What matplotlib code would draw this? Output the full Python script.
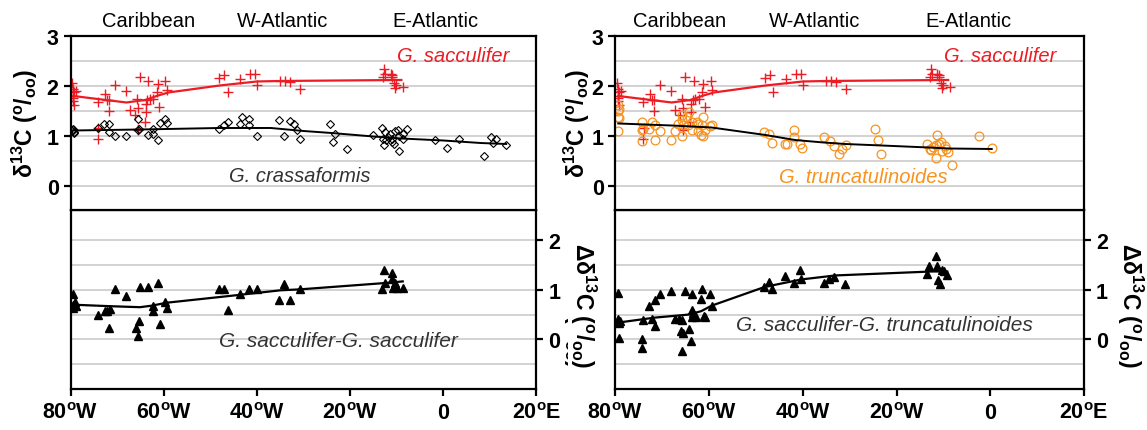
import matplotlib
matplotlib.use("Agg")
import matplotlib.pyplot as plt
import numpy as np

plt.rcParams['font.family'] = ['Liberation Sans', 'DejaVu Sans']
plt.rcParams['mathtext.fontset'] = 'custom'
plt.rcParams['mathtext.rm'] = 'Liberation Sans'
plt.rcParams['mathtext.bf'] = 'Liberation Sans:bold'
plt.rcParams['mathtext.it'] = 'Liberation Sans:italic'
plt.rcParams['mathtext.default'] = 'bf'

# G. sacculifer d13C (red crosses, same in both panels)
sac_lon = [-79.6, -79.4, -79.2, -78.9, -79.5, -79.4, -79.5, -79.3,
           -74.2, -72.7, -72.2, -71.7, -71.7, -70.5, -68.2, -74.2, -74.0,
           -67.2, -66.2, -65.8, -65.5, -65.1, -65.6, -65.5, -64.0, -63.8, -63.5,
           -63.3, -63.8, -63.0, -62.2, -61.5, -61.3, -61.0, -59.7, -59.4,
           -48.1, -47.0, -46.3, -43.6, -41.5, -40.4, -39.9,
           -35.0, -34.0, -33.0, -30.8,
           -12.7, -12.9, -12.5, -11.3, -10.9, -10.6, -10.2, -10.4, -8.6, -10.9]
sac_val = [2.06, 1.94, 1.87, 1.90, 1.80, 1.75, 1.69, 1.61,
           1.67, 1.83, 1.71, 1.71, 1.49, 2.02, 1.89, 0.94, 1.15,
           1.51, 1.42, 1.73, 1.55, 2.17, 1.14, 1.11, 1.27, 1.64, 1.71,
           2.09, 1.47, 1.73, 1.73, 1.87, 2.04, 1.57, 2.09, 1.91,
           2.15, 2.21, 1.87, 2.13, 2.24, 2.24, 2.01,
           2.09, 2.09, 2.07, 1.94,
           2.33, 2.17, 2.24, 2.24, 2.17, 2.06, 2.01, 1.95, 1.97, 2.22]
sac_fit_lon = [-79.4, -74.2, -68, -64, -61.2, -59, -48, -40, -35, -9]
sac_fit_val = [1.80, 1.74, 1.67, 1.72, 1.81, 1.87, 2.01, 2.09, 2.10, 2.12]

# G. crassaformis d13C
cra_lon = [-79.6, -79.4, -79.2, -79.5, -79.3,
           -74.0, -72.8, -71.7, -71.7, -70.5, -68.2, -65.6, -65.6, -65.2, -63.3,
           -62.3, -62.3, -61.3, -60.9, -59.7, -59.4,
           -48.1, -47.1, -46.3, -43.6, -43.3, -41.6, -41.6, -40.0,
           -35.2, -33.0, -32.0, -31.3, -34.2, -30.8,
           -24.3, -23.2, -23.6, -20.6,
           -15.0, -13.2, -12.5, -12.9, -12.7, -11.8, -11.4, -10.9, -10.6, -10.4,
           -9.7, -9.4, -8.7, -8.6, -7.7, -9.4, -12.2, -11.1,
           -1.8, 0.9, 3.4, 8.7, 10.3, 11.4, 10.6, 13.5]
cra_val = [1.10, 1.12, 1.08, 1.14, 1.05,
           1.15, 1.24, 1.24, 1.07, 0.99, 0.99, 1.33, 1.11, 1.13, 1.02,
           1.04, 1.14, 0.91, 1.25, 1.33, 1.26,
           1.14, 1.21, 1.27, 1.23, 1.37, 1.34, 1.22, 0.99,
           1.31, 1.29, 1.24, 1.11, 0.99, 0.94,
           1.23, 1.04, 0.87, 0.74,
           1.01, 1.15, 1.07, 0.94, 0.82, 0.97, 1.04, 0.87, 0.84, 1.09,
           1.11, 0.99, 0.94, 1.04, 1.13, 0.69, 0.91, 0.94,
           0.91, 0.76, 0.94, 0.59, 0.97, 0.94, 0.85, 0.82]
cra_fit_lon = [-79.5, -65, -48, -37, -30, -24, -15, -9, 0, 8, 13.5]
cra_fit_val = [1.11, 1.13, 1.16, 1.16, 1.10, 1.06, 0.99, 0.95, 0.91, 0.86, 0.84]

# G. truncatulinoides d13C
tru_lon = [-79.4, -79.3, -79.4, -79.4, -79.2, -79.5,
           -74.3, -74.1, -74.4, -74.4, -72.3, -72.8, -71.6, -71.6, -70.5, -68.2,
           -67.2, -65.9, -65.7, -65.5, -65.7, -64.8, -64.6, -63.7, -63.6, -62.6,
           -62.3, -62.3, -61.3, -61.5, -61.8, -61.3, -60.9, -59.8, -59.3, -64.4, -66.6,
           -48.2, -47.2, -46.5, -43.8, -43.4, -41.8, -41.8, -40.6, -40.2,
           -35.5, -34.2, -33.3, -32.3, -31.6, -30.9, -24.6, -23.9, -23.4,
           -13.6, -12.9, -12.7, -12.2, -11.3, -11.5, -11.0, -10.5, -10.4, -11.5,
           -9.7, -9.5, -9.0, -8.1, -2.4, 0.4]
tru_val = [1.61, 1.54, 1.49, 1.37, 1.35, 1.09,
           1.27, 1.14, 1.11, 0.89, 1.27, 1.13, 1.21, 0.92, 1.09, 0.91,
           1.09, 1.32, 1.42, 1.22, 0.99, 1.37, 1.21, 1.27, 1.11, 1.27,
           1.24, 1.09, 1.37, 1.21, 1.01, 0.99, 1.11, 1.19, 1.21, 1.47, 1.24,
           1.07, 1.04, 0.86, 0.84, 0.84, 1.11, 0.97, 0.84, 0.75,
           0.97, 0.89, 0.79, 0.63, 0.74, 0.82, 1.14, 0.91, 0.63,
           0.84, 0.74, 0.71, 0.77, 1.01, 0.82, 0.84, 0.87, 0.69, 0.55,
           0.79, 0.74, 0.67, 0.42, 0.99, 0.75]
tru_fit_lon = [-79.4, -68, -59.5, -48, -41.7, -35.6, -31, -23.2, -13.2, -9, 0.3]
tru_fit_val = [1.25, 1.21, 1.17, 1.02, 0.92, 0.87, 0.84, 0.81, 0.77, 0.75, 0.74]

# Delta d13C  G. sacculifer - G. sacculifer
dss_lon = [-79.4, -79.5, -79.0, -79.4, -78.9, -74.2, -72.7, -72.2, -71.5, -71.7,
           -70.5, -68.2, -65.9, -65.4, -65.6, -65.1, -63.3, -62.3, -62.2, -61.3,
           -60.9, -59.7, -59.3, -48.1, -47.1, -46.3, -43.6, -41.6, -40.0, -34.1,
           -35.2, -33.0, -30.7, -12.7, -10.9, -11.1, -13.2, -12.5, -10.7, -10.0,
           -8.7, -10.4]
dss_val = [0.91, 0.70, 0.75, 0.64, 0.67, 0.50, 0.57, 0.57, 0.62, 0.23,
           1.01, 0.87, 0.23, 0.37, 0.07, 1.06, 1.06, 0.67, 0.57, 1.13,
           0.32, 0.75, 0.64, 1.01, 1.01, 0.60, 0.91, 1.01, 1.01, 1.11,
           0.79, 0.79, 1.01, 1.40, 1.33, 1.22, 1.01, 1.14, 1.04, 1.04,
           1.04, 1.14]
dss_fit_lon = [-79.4, -71.5, -65.1, -62.6, -59.4, -46.5, -35, -30.7, -12.1, -8.7]
dss_fit_val = [0.70, 0.67, 0.65, 0.68, 0.74, 0.87, 0.99, 1.01, 1.14, 1.17]

# Delta d13C  G. sacculifer - G. truncatulinoides
dst_lon = [-79.4, -79.4, -79.3, -79.1, -79.3, -74.3, -74.3, -74.1, -72.8, -71.6,
           -71.6, -72.3, -70.5, -68.2, -67.2, -66.5, -66.0, -65.5, -65.7, -65.7,
           -65.1, -64.3, -63.8, -63.6, -63.6, -63.6, -63.4, -62.9, -61.8, -61.5,
           -61.1, -60.9, -59.8, -59.5, -48.2, -47.2, -46.7, -43.8, -41.8, -40.6,
           -40.3, -35.4, -34.4, -33.3, -31.0, -13.6, -13.1, -11.5, -11.3, -10.4,
           -11.1, -10.8, -9.8, -9.2]
dst_val = [0.94, 0.42, 0.34, 0.37, 0.03, 0.00, -0.18, 0.40, 0.68, 0.27,
           0.79, 0.42, 0.91, 0.98, 0.42, 0.42, 0.17, 0.12, -0.23, 0.40,
           0.97, 0.21, -0.03, 0.91, 0.60, 0.46, 0.54, 0.46, 0.82, 1.01,
           0.48, 0.46, 0.91, 0.68, 1.06, 1.15, 1.01, 1.27, 1.13, 1.41,
           1.22, 1.13, 1.21, 1.26, 1.11, 1.31, 1.48, 1.69, 1.48, 1.39,
           1.19, 1.11, 1.37, 1.29]
dst_fit_lon = [-79.4, -71.6, -64.5, -61.7, -59.5, -48.1, -40.3, -33.1, -12.5, -9.2]
dst_fit_val = [0.34, 0.44, 0.50, 0.57, 0.68, 1.06, 1.21, 1.29, 1.37, 1.37]

lon_ticks = [-80, -60, -40, -20, 0, 20]
lon_labels = ['80$^{o}$W', '60$^{o}$W', '40$^{o}$W', '20$^{o}$W', '0', '20$^{o}$E']
regions = ['Caribbean', 'W-Atlantic', 'E-Atlantic']

RED = '#ED1C24'
ORANGE = '#F7931E'
GRID = '#cfcfcf'
LW = 1.6
TICK_FS = 15.5
d13c_label = 'δ$^{13}$C ($^{o}$/$_{oo}$)'
dd13c_label = 'Δδ$^{13}$C ($^{o}$/$_{oo}$)'

fig = plt.figure(figsize=(11.47, 4.31), dpi=100)


def style_axes(ax, ylim, major, minor):
    ax.set_xlim(-80, 20)
    ax.set_ylim(*ylim)
    ax.set_yticks(major)
    ax.set_yticks(minor, minor=True)
    ax.grid(True, which='both', axis='y', color=GRID, lw=1.3, zorder=0)
    ax.set_axisbelow(True)
    for s in ax.spines.values():
        s.set_visible(True)
        s.set_linewidth(LW)
        s.set_color('black')
        s.set_zorder(6)
    ax.tick_params(which='minor', length=0)
    ax.tick_params(which='major', width=LW, length=5, labelsize=TICK_FS)


def panel(x0, w, reg_pos, ss_lon, ss_val, ss_fit, lbl_pos, bot_lon, bot_val,
          bot_fit, bot_text, bot_text_pos, second, ylab_x, right_x, left_bot_x):
    bot = fig.add_axes([x0, 0.0951, w, 0.4165])
    top = fig.add_axes([x0, 0.5116, w, 0.4026])
    top.set_zorder(3)
    bot.set_zorder(2)

    style_axes(top, (-0.47, 3), [0, 1, 2, 3], [0.5, 1.5, 2.5])
    top.tick_params(axis='x', bottom=False, labelbottom=False)
    top.tick_params(axis='y', which='major', direction='out')
    for t in top.get_yticklabels():
        t.set_fontweight('bold')

    lon2, val2, fit2, col2, mk2, txt2, txt2_pos, txt2_col = second
    top.plot(ss_lon, ss_val, ls='none', marker='+', ms=7.5, mew=1.0, color=RED, zorder=3)
    top.plot(ss_fit[0], ss_fit[1], color=RED, lw=1.6, zorder=4)
    if mk2 == 'D':
        top.plot(lon2, val2, ls='none', marker='D', ms=4.4, mfc='none', mec='black',
                 mew=0.8, zorder=3)
    else:
        top.plot(lon2, val2, ls='none', marker='o', ms=6.3, mfc='none', mec=col2,
                 mew=0.9, zorder=3)
    top.plot(fit2[0], fit2[1], color='black', lw=1.4, zorder=4)

    top.text(lbl_pos[0], lbl_pos[1], 'G. sacculifer', color=RED, style='italic',
             fontsize=14.5, ha='center', va='center')
    top.text(txt2_pos[0], txt2_pos[1], txt2, color=txt2_col, style='italic',
             fontsize=14.5, ha='center', va='center')
    for name, xp in zip(regions, reg_pos):
        top.text(xp, 3.31, name, fontsize=14.5, ha='center', va='center', clip_on=False)
    top.text(ylab_x, 0.5, d13c_label, transform=top.transAxes, rotation=90,
             fontsize=16.5, fontweight='bold', ha='center', va='center')

    style_axes(bot, (-1.0, 2.62), [0, 1, 2], [-0.5, 0.5, 1.5])
    bot.yaxis.tick_right()
    bot.tick_params(axis='y', which='major', direction='out', left=False, right=True,
                    labelleft=False, labelright=True)
    bot.set_xticks(lon_ticks)
    bot.set_xticklabels(lon_labels)
    bot.tick_params(axis='x', direction='out', pad=4)
    for t in bot.get_yticklabels() + bot.get_xticklabels():
        t.set_fontweight('bold')

    bot.plot(bot_lon, bot_val, ls='none', marker='^', ms=5.8, color='black', zorder=3)
    bot.plot(bot_fit[0], bot_fit[1], color='black', lw=1.6, zorder=4)
    bot.text(bot_text_pos[0], bot_text_pos[1], bot_text, style='italic', fontsize=15,
             color='#333333', ha='center', va='center')
    bot.text(right_x, 0.47, dd13c_label, transform=bot.transAxes, rotation=270,
             fontsize=16.5, fontweight='bold', ha='center', va='center', clip_on=False)
    if left_bot_x is not None:
        bot.text(left_bot_x, 0.47, dd13c_label, transform=bot.transAxes, rotation=270,
                 fontsize=16.5, fontweight='bold', ha='center', va='center', zorder=10,
                 clip_on=False, bbox=dict(facecolor='white', edgecolor='none', pad=0.3))
    return top, bot


panel(0.0615, 0.4062, [-63.2, -34.4, -1.7], sac_lon, sac_val, (sac_fit_lon, sac_fit_val),
      (2.1, 2.61), dss_lon, dss_val, (dss_fit_lon, dss_fit_val),
      'G. sacculifer-G. sacculifer', (-22.5, -0.03),
      (cra_lon, cra_val, (cra_fit_lon, cra_fit_val), 'black', 'D', 'G. crassaformis',
       (-30.8, 0.21), '#333333'),
      -0.098, 1.085, None)

panel(0.5366, 0.4085, [-66.4, -37.6, -4.7], sac_lon, sac_val, (sac_fit_lon, sac_fit_val),
      (2.1, 2.61), dst_lon, dst_val, (dst_fit_lon, dst_fit_val),
      'G. sacculifer-G. truncatulinoides', (-22.5, 0.30),
      (tru_lon, tru_val, (tru_fit_lon, tru_fit_val), ORANGE, 'o', 'G. truncatulinoides',
       (-27, 0.18), ORANGE),
      -0.082, 1.098, -0.069)

plt.savefig('out.png', dpi=100)
